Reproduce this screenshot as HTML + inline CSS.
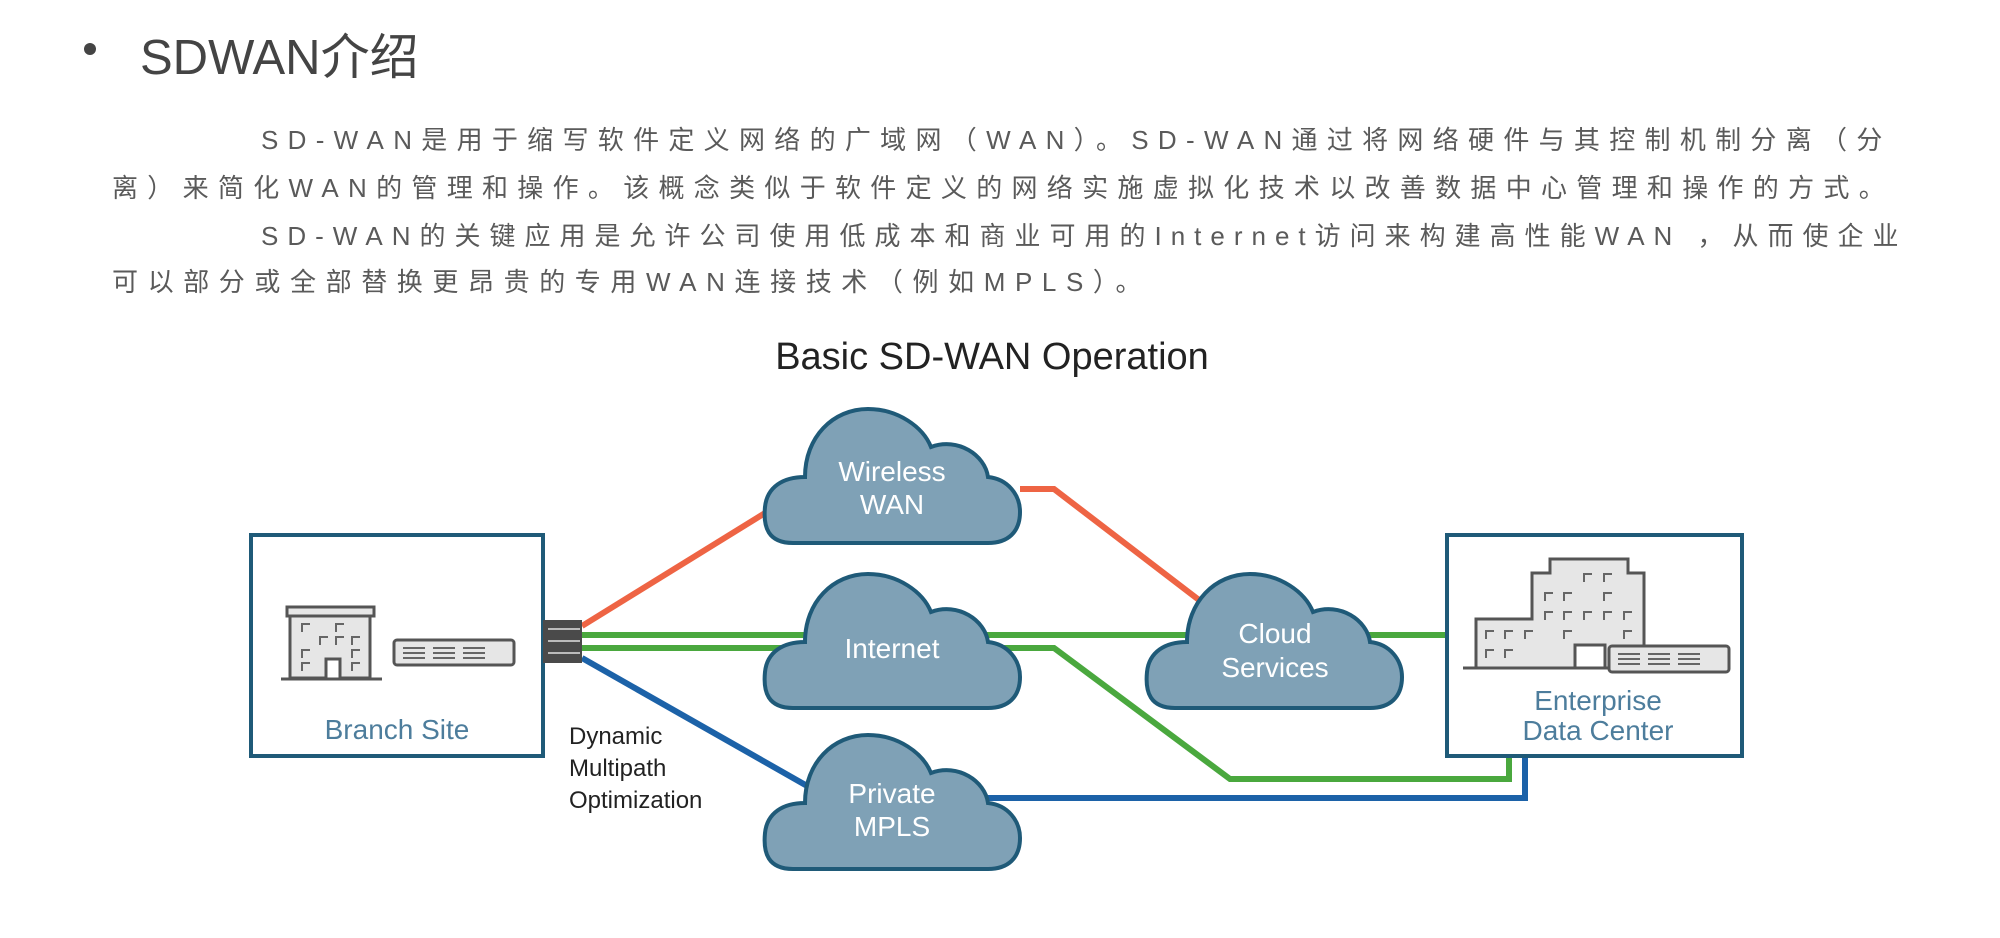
<!DOCTYPE html>
<html><head><meta charset="utf-8"><style>
body{margin:0;width:2000px;height:938px;background:#fff;overflow:hidden;position:relative;font-family:"Liberation Sans","Noto Sans CJK SC",sans-serif}
.t{position:absolute;white-space:nowrap;color:#5a5a5a;font-size:26px;letter-spacing:8.7px}
</style></head><body>
<div style="position:absolute;left:84px;top:43px;width:12px;height:12px;border-radius:50%;background:#444"></div>
<div class="t" style="left:140px;top:18px;font-size:49px;color:#444;letter-spacing:0">SDWAN介绍</div>
<div class="t" style="left:261px;top:120px;letter-spacing:9.3px">SD-WAN是用于缩写软件定义网络的广域网（WAN）。SD-WAN通过将网络硬件与其控制机制分离（分</div>
<div class="t" style="left:112px;top:168px;letter-spacing:9.3px">离）来简化WAN的管理和操作。该概念类似于软件定义的网络实施虚拟化技术以改善数据中心管理和操作的方式。</div>
<div class="t" style="left:261px;top:216px;letter-spacing:9.0px">SD-WAN的关键应用是允许公司使用低成本和商业可用的Internet访问来构建高性能WAN ，从而使企业</div>
<div class="t" style="left:112px;top:262px;letter-spacing:9.6px">可以部分或全部替换更昂贵的专用WAN连接技术（例如MPLS）。</div>
<svg width="2000" height="938" style="position:absolute;left:0;top:0" font-family="Liberation Sans, sans-serif">
<defs>
<path id="cl" d="M30,136 C5,136 0,120 2,100 C4,80 20,70 42,70 C42,30 70,2 105,2 C135,2 160,20 168,40 C195,30 222,48 225,70 C245,72 257,88 257,105 C257,125 245,136 225,136 Z" fill="#7fa1b6" stroke="#1f5a78" stroke-width="4"/>
</defs>
<text x="992" y="369" font-size="38" text-anchor="middle" fill="#222">Basic SD-WAN Operation</text>
<g fill="none" stroke-width="6">
<polyline points="582,626 765,513" stroke="#ee6444"/>
<polyline points="1020,489 1054,489 1199,600" stroke="#ee6444"/>
<polyline points="582,635 1447,635" stroke="#4aa83e"/>
<polyline points="582,648 1054,648 1230,779 1509,779 1509,757" stroke="#4aa83e"/>
<polyline points="582,658 816,791" stroke="#1c62a8"/>
<polyline points="980,798 1525,798 1525,757" stroke="#1c62a8"/>
</g>
<rect x="251" y="535" width="292" height="221" fill="none" stroke="#1f5a78" stroke-width="4"/>
<rect x="1447" y="535" width="295" height="221" fill="none" stroke="#1f5a78" stroke-width="4"/>
<rect x="543" y="620" width="39" height="43" fill="#4a4a4a"/>
<g stroke="#bbb" stroke-width="2"><line x1="548" y1="629" x2="580" y2="629"/><line x1="548" y1="641" x2="580" y2="641"/><line x1="548" y1="653" x2="580" y2="653"/></g>
<use href="#cl" x="763" y="407"/>
<use href="#cl" x="763" y="572"/>
<use href="#cl" x="763" y="733"/>
<use href="#cl" x="1145" y="572"/>
<g fill="#fff" font-size="28" text-anchor="middle">
<text x="892" y="481">Wireless</text><text x="892" y="514">WAN</text>
<text x="892" y="658">Internet</text>
<text x="892" y="803">Private</text><text x="892" y="836">MPLS</text>
<text x="1275" y="643">Cloud</text><text x="1275" y="677">Services</text>
</g>
<text x="397" y="739" font-size="28" text-anchor="middle" fill="#4d7d9c">Branch Site</text>
<text x="1598" y="710" font-size="28" text-anchor="middle" fill="#4d7d9c">Enterprise</text>
<text x="1598" y="740" font-size="28" text-anchor="middle" fill="#4d7d9c">Data Center</text>
<g font-size="24" fill="#222"><text x="569" y="744">Dynamic</text><text x="569" y="776">Multipath</text><text x="569" y="808">Optimization</text></g>
<g stroke="#555" stroke-width="3" fill="#e6e6e6">
<path d="M287,616 L374,616 L374,607 L287,607 Z"/>
<path d="M290,616 L290,678 L326,678 L326,659 L340,659 L340,678 L370,678 L370,616 Z"/>
<line x1="281" y1="679" x2="382" y2="679"/>
<rect x="394" y="640" width="120" height="25" rx="3"/>
</g>
<g stroke="#666" stroke-width="2" fill="none">
<path d="M302,632v-8h8 M336,632v-8h8 M320,645v-8h8 M336,645v-8h8 M352,645v-8h8 M302,658v-8h8 M352,658v-8h8 M302,671v-8h8 M352,671v-8h8"/>
<path d="M403,648h22 M403,653h22 M403,658h22 M433,648h22 M433,653h22 M433,658h22 M463,648h22 M463,653h22 M463,658h22"/>
</g>
<g stroke="#555" stroke-width="3" fill="#e6e6e6">
<path d="M1476,668 L1476,619 L1532,619 L1532,573 L1550,573 L1550,559 L1628,559 L1628,573 L1644,573 L1644,668 L1605,668 L1605,645 L1575,645 L1575,668 Z"/>
<line x1="1463" y1="668" x2="1610" y2="668"/>
<rect x="1609" y="646" width="120" height="26" rx="3"/>
</g>
<g stroke="#666" stroke-width="2" fill="none">
<path d="M1584,582v-8h8 M1604,582v-8h8 M1545,601v-8h8 M1564,601v-8h8 M1604,601v-8h8 M1545,620v-8h8 M1564,620v-8h8 M1584,620v-8h8 M1604,620v-8h8 M1624,620v-8h8 M1486,639v-8h8 M1505,639v-8h8 M1525,639v-8h8 M1564,639v-8h8 M1624,639v-8h8 M1486,658v-8h8 M1505,658v-8h8"/>
<path d="M1618,654h22 M1618,659h22 M1618,664h22 M1648,654h22 M1648,659h22 M1648,664h22 M1678,654h22 M1678,659h22 M1678,664h22"/>
</g>
</svg>
</body></html>
